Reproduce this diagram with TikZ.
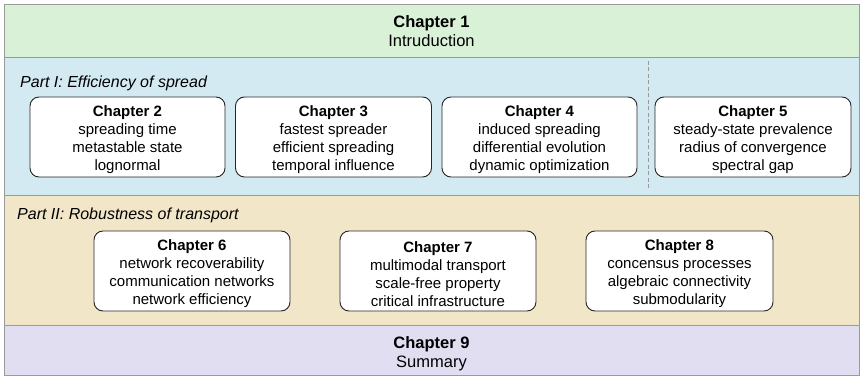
\documentclass[tikz,border=0pt]{standalone}
\usepackage{fontspec}
\setmainfont{Liberation Sans}
\definecolor{bandgreen}{HTML}{D9F2D7}
\definecolor{bandblue}{HTML}{D4EAF2}
\definecolor{bandbeige}{HTML}{F2E6C9}
\definecolor{bandlilac}{HTML}{E2DEF2}
\definecolor{bandline}{HTML}{9A9A9A}
\newcommand{\chtitle}[1]{\rule{0pt}{16.5pt}\textbf{#1}}
\tikzset{
  band/.style={draw=bandline, line width=0.9pt, rectangle, inner sep=0pt, anchor=north west},
  chbox/.style={draw=black!85, line width=0.9pt, fill=white, rounded corners=9pt, inner sep=0pt,
    minimum height=80pt, align=center, font=\fontsize{15}{18}\selectfont},
  bandtext/.style={align=center, font=\fontsize{16.5}{19}\selectfont, inner sep=0pt},
  partlabel/.style={anchor=base west, font=\fontsize{16}{19}\selectfont\itshape, inner sep=0pt},
  sep/.style={draw=bandline, line width=1pt, dash pattern=on 4pt off 2.5pt}
}
\begin{document}
\begin{tikzpicture}[x=1pt,y=-1pt]
\useasboundingbox (0,0) rectangle (863,377);
% bands
\node[band, fill=bandgreen, minimum width=855pt, minimum height=53pt] (b1) at (4,4) {};
\node[band, fill=bandblue, minimum width=855pt, minimum height=138pt] (b2) at (4,57) {};
\node[band, fill=bandbeige, minimum width=855pt, minimum height=130pt] (b3) at (4,195) {};
\node[band, fill=bandlilac, minimum width=855pt, minimum height=50pt] (b4) at (4,325) {};
% band titles
\node[bandtext, anchor=base] (t1) at (431.5,28) {\textbf{Chapter 1}};
\node[bandtext, anchor=base] (t1b) at (431.5,47) {Intruduction};
\node[bandtext, anchor=base] (t9) at (431.5,348) {\textbf{Chapter 9}};
\node[bandtext, anchor=base] (t9b) at (431.5,367) {Summary};
% part labels
\node[partlabel] (p1) at (20,88) {Part I: Efficiency of spread};
\node[partlabel] (p2) at (17,220) {Part II: Robustness of transport};
% separator
\coordinate (s1) at (648,61);
\coordinate (s2) at (648,189);
\draw[sep] (s1) -- (s2);
% Part I chapters
\node[chbox, minimum width=195pt] (c2) at (127.5,137) {\chtitle{Chapter 2}\\spreading time\\metastable state\\lognormal};
\node[chbox, minimum width=196pt] (c3) at (333.5,137) {\chtitle{Chapter 3}\\fastest spreader\\efficient spreading\\temporal influence};
\node[chbox, minimum width=195pt] (c4) at (539.5,137) {\chtitle{Chapter 4}\\induced spreading\\differential evolution\\dynamic optimization};
\node[chbox, minimum width=196pt] (c5) at (753,137) {\chtitle{Chapter 5}\\steady-state prevalence\\radius of convergence\\spectral gap};
% Part II chapters
\node[chbox, minimum width=196pt] (c6) at (192,271) {\chtitle{Chapter 6}\\network recoverability\\communication networks\\network efficiency};
\node[chbox, minimum width=196pt] (c7) at (438,271) {\chtitle{Chapter 7}\\multimodal transport\\scale-free property\\critical infrastructure};
\node[chbox, minimum width=187pt] (c8) at (679.5,271) {\chtitle{Chapter 8}\\concensus processes\\algebraic connectivity\\submodularity};
\end{tikzpicture}
\end{document}
